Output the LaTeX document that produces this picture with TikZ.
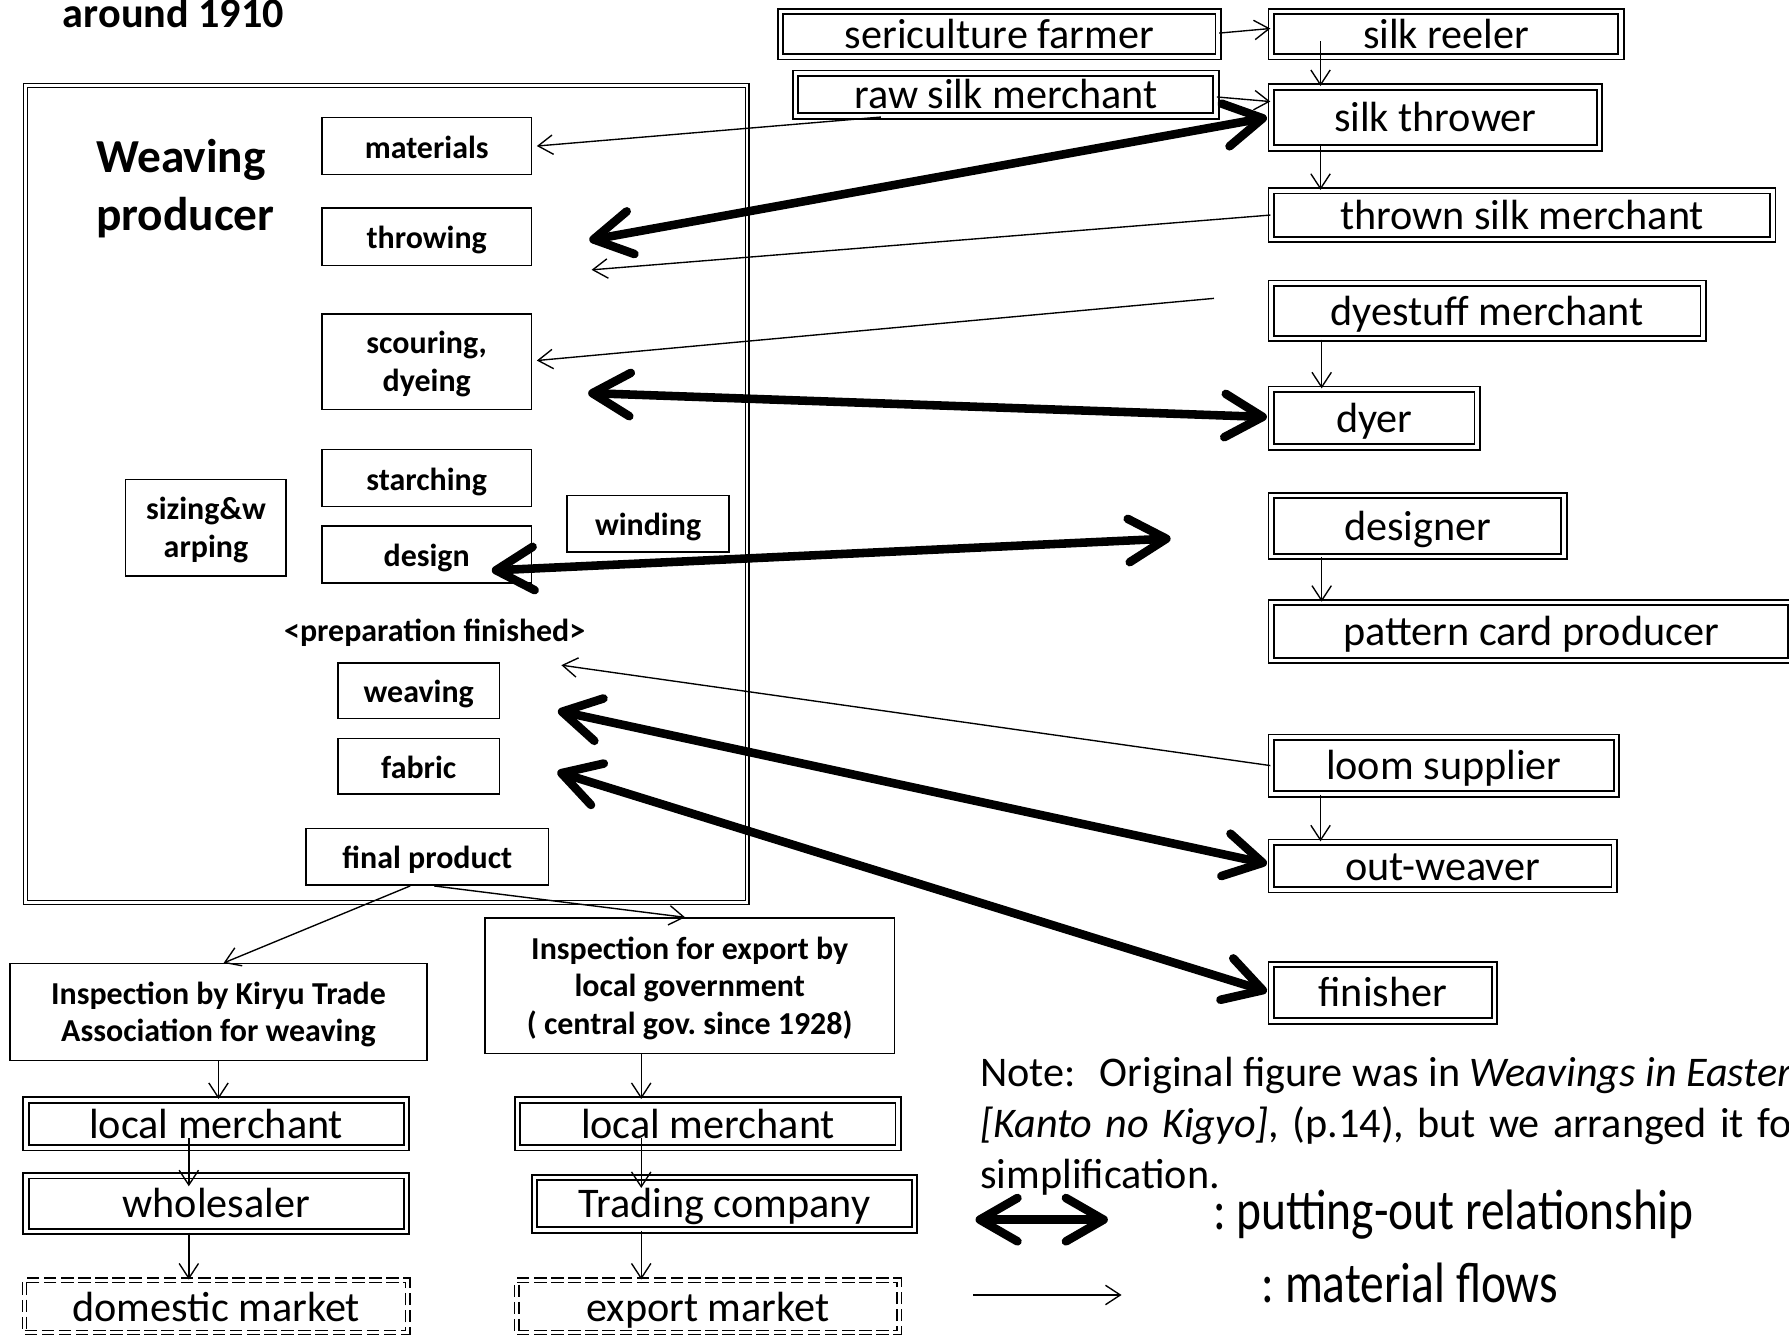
\documentclass[tikz,border=0pt]{standalone}
\usepackage{fontspec}
\usepackage{graphicx}
\setmainfont{Carlito}
\usetikzlibrary{arrows.meta}
\newcommand{\mystrut}{\rule[-4pt]{0pt}{28pt}}
\frenchspacing
\begin{document}
\begin{tikzpicture}[x=1pt,y=-1pt,
  rbox/.style={draw,line width=1.6pt,double,double distance=3.2pt,inner sep=0pt,
    font=\fontsize{37}{44}\selectfont,text height=30pt,text depth=5pt},
  pbox/.style={draw,line width=1.3pt,inner sep=0pt,
    font=\bfseries\fontsize{28}{34}\selectfont,text height=24pt,text depth=3pt},
  mpbox/.style={draw,line width=1.3pt,inner sep=0pt,align=center,
    font=\bfseries\fontsize{28}{33}\selectfont},
  mbox/.style={draw,line width=1.1pt,double,double distance=2.6pt,
    dash pattern=on 11pt off 4pt,inner sep=0pt,
    font=\fontsize{37}{44}\selectfont,text height=32pt,text depth=5pt},
  wpbox/.style={draw,line width=1pt,double,double distance=2.4pt,inner sep=0pt},
  flow/.style={line width=1.2pt,arrows={-Straight Barb[length=13pt,width=17pt]}},
  put/.style={line width=7.5pt,arrows={Straight Barb[length=33pt,width=38pt,round]-Straight Barb[length=33pt,width=38pt,round]}},
  lbl/.style={inner sep=0pt,font=\fontsize{37}{45}\selectfont},
  leg/.style={inner sep=0pt,font=\fontsize{41.6}{50}\selectfont},
]
\useasboundingbox (0,0) rectangle (1568,1172);
\fill[white] (0,0) rectangle (1568,1172);

\node[anchor=base west,inner sep=0pt,font=\bfseries\fontsize{37}{44}\selectfont] (yr) at (55,24) {around 1910};

% weaving producer
\node[wpbox,minimum width=632.6pt,minimum height=715.6pt] (wp) at (338.5,433) {};
\node[anchor=base west,inner sep=0pt,font=\bfseries\fontsize{41.5}{50}\selectfont] (wp1) at (84,151) {Weaving};
\node[anchor=base west,inner sep=0pt,font=\bfseries\fontsize{41.5}{50}\selectfont] (wp2) at (84,202) {producer};

\node[pbox,minimum width=183.7pt,minimum height=49.7pt] (materials) at (374,128) {materials};
\node[pbox,minimum width=183.7pt,minimum height=50.7pt] (throwing) at (374,207.5) {throwing};
\node[mpbox,minimum width=183.7pt,minimum height=83.7pt] (scouring) at (374,317) {scouring,\mystrut\\dyeing\mystrut};
\node[pbox,minimum width=183.7pt,minimum height=49.7pt] (starching) at (374,419) {starching};
\node[pbox,minimum width=183.7pt,minimum height=49.7pt] (design) at (374,486) {design};
\node[mpbox,minimum width=140.7pt,minimum height=84.7pt] (sizing) at (180.5,462.5) {sizing\&w\mystrut\\arping\mystrut};
\node[pbox,minimum width=141.7pt,minimum height=49.7pt] (winding) at (568,459) {winding};
\node[anchor=base,inner sep=0pt,font=\bfseries\fontsize{28}{34}\selectfont] (prep) at (381,562) {<preparation finished>};
\node[pbox,minimum width=141.7pt,minimum height=48.7pt] (weaving) at (367,605.5) {weaving};
\node[pbox,minimum width=141.7pt,minimum height=48.7pt] (fabric) at (367,671.5) {fabric};
\node[pbox,minimum width=212.7pt,minimum height=49.7pt] (final) at (374.5,751) {final product};

% right column
\node[rbox,minimum width=383.6pt,minimum height=39.6pt] (farmer) at (876,30) {sericulture farmer};
\node[rbox,minimum width=306.6pt,minimum height=39.6pt] (reeler) at (1267.5,30) {silk reeler};
\node[rbox,minimum width=368.6pt,minimum height=37.6pt] (rawsilk) at (881.5,83) {raw silk merchant};
\node[rbox,minimum width=287.6pt,minimum height=53.6pt] (thrower) at (1258,103) {silk thrower};
\node[rbox,minimum width=439.6pt,minimum height=42.6pt] (thrownm) at (1334,188.5) {thrown silk merchant};
\node[rbox,minimum width=378.6pt,minimum height=48.6pt] (dyestuff) at (1303.5,272.5) {dyestuff merchant};
\node[rbox,minimum width=180.6pt,minimum height=50.6pt] (dyer) at (1204.5,366.5) {dyer};
\node[rbox,minimum width=256.6pt,minimum height=53.6pt] (designer) at (1242.5,461) {designer};
\node[rbox,minimum width=455.6pt,minimum height=50.6pt] (pattern) at (1342,553.5) {pattern card producer};
\node[rbox,minimum width=302.6pt,minimum height=49.6pt] (loom) at (1265.5,671) {loom supplier};
\node[rbox,minimum width=300.6pt,minimum height=41.6pt] (outweaver) at (1264.5,759) {out-weaver};
\node[rbox,minimum width=195.6pt,minimum height=49.6pt] (finisher) at (1212,870) {finisher};

% bottom
\node[mpbox,minimum width=365.7pt,minimum height=84.7pt] (kiryu) at (191.5,887) {Inspection by Kiryu Trade\mystrut\\Association for weaving\mystrut};
\node[mpbox,minimum width=358.7pt,minimum height=118.7pt] (expinsp) at (604.5,864) {Inspection for export by\mystrut\\local government\mystrut\\( central gov. since 1928)\mystrut};
\node[rbox,minimum width=333.6pt,minimum height=42pt] (localL) at (189.5,985) {local merchant};
\node[rbox,minimum width=333.6pt,minimum height=49pt] (whole) at (189.5,1055) {wholesaler};
\node[mbox,minimum width=336pt,minimum height=46pt] (domestic) at (189.5,1145) {domestic market};
\node[rbox,minimum width=333.6pt,minimum height=42pt] (localR) at (620.5,985) {local merchant};
\node[rbox,minimum width=333pt,minimum height=46pt] (trading) at (635,1055) {Trading company};
\node[mbox,minimum width=335pt,minimum height=46pt] (export) at (620.5,1145) {export market};

% note
\node[lbl,anchor=base west] (n1) at (859,952.5) {Note:\hspace{21pt}Original figure was in \textit{Weavings in Eastern}};
\node[lbl,anchor=base west] (n2) at (859,997) {\spaceskip=11.5pt\textit{[Kanto no Kigyo]}, (p.14), but we arranged it for};
\node[lbl,anchor=base west] (n3) at (859,1042) {simplification.};

% legend
\coordinate (la) at (855,1069);
\coordinate (lb) at (971,1069);
\draw[put] (la) -- (lb);
\node[leg,anchor=base west] (lt1) at (1063,1078) {\scalebox{1}[1.2]{: putting-out relationship}};
\coordinate (lc) at (853,1135);
\coordinate (ld) at (983,1135);
\draw[flow] (lc) -- (ld);
\node[leg,anchor=base west] (lt2) at (1105.5,1142) {\scalebox{1}[1.2]{: material flows}};

% material flows
\draw[flow] ([yshift=1pt]farmer.east) -- ([yshift=5pt]reeler.west);
\draw[flow] ([xshift=44pt,yshift=-6pt]reeler.west) -- ([xshift=44pt]thrower.north west);
\draw[flow] ([yshift=-2pt]rawsilk.east) -- ([yshift=14pt]thrower.west);
\draw[flow] ([xshift=44pt,yshift=-25pt]thrower.west) -- ([xshift=44pt]thrownm.north west);
\draw[flow] ([xshift=-109.5pt]rawsilk.south) -- ([xshift=4pt]materials.east);
\coordinate (thr) at (518.5,236.5);
\draw[flow] (thrownm.west) -- (thr);
\coordinate (dyf) at (1064,261.5);
\draw[flow] (dyf) -- ([xshift=4pt,yshift=1pt]scouring.east);
\draw[flow] ([xshift=45pt]dyestuff.south west) -- ([xshift=45pt]dyer.north west);
\draw[flow] ([xshift=45pt]designer.south west) -- ([xshift=45pt]pattern.north west);
\coordinate (lm) at (492,583);
\draw[flow] (loom.west) -- (lm);
\draw[flow] ([xshift=44pt]loom.south west) -- ([xshift=44pt]outweaver.north west);

\draw[flow] ([xshift=-15pt]final.south) -- ([xshift=4.5pt]kiryu.north);
\draw[flow] ([xshift=6pt]final.south) -- ([xshift=-4pt]expinsp.north);
\draw[flow] (kiryu.south) -- (kiryu.south |- localL.north);
\draw[flow] ([xshift=-24pt,yshift=9pt]localL.south) -- ([xshift=-24pt,yshift=-10pt]whole.north);
\draw[flow] ([xshift=-24pt]whole.south) -- ([xshift=-24pt]domestic.north);
\draw[flow] ([xshift=-42.5pt]expinsp.south) -- ([xshift=-58.5pt]localR.north);
\draw[flow] ([xshift=-58.5pt,yshift=9pt]localR.south) -- ([xshift=-73pt,yshift=-10pt]trading.north);
\draw[flow] ([xshift=-73pt]trading.south) -- ([xshift=-58.5pt]export.north);

% putting-out relationships
\coordinate (pA) at (516.5,210.5);
\draw[put] (pA) -- ([xshift=-3pt]thrower.west);
\coordinate (pB) at (515.5,344.5);
\draw[put] (pB) -- ([xshift=-3pt,yshift=1pt]dyer.west);
\coordinate (pC1) at (431,500);
\coordinate (pC2) at (1026,472);
\draw[put] (pC1) -- (pC2);
\coordinate (pD) at (489,623);
\draw[put] (pD) -- ([xshift=-3pt,yshift=2pt]outweaver.west);
\coordinate (pE) at (488.5,676.5);
\draw[put] (pE) -- ([xshift=-3pt,yshift=1pt]finisher.west);
\end{tikzpicture}
\end{document}
